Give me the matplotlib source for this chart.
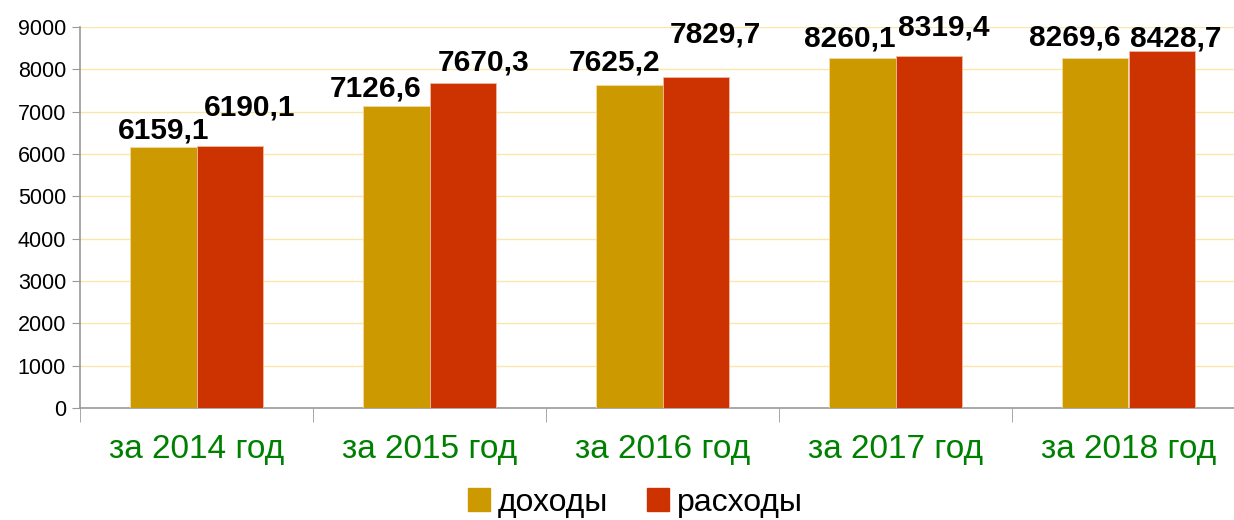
import numpy as np
import matplotlib.pyplot as plt
from matplotlib.patches import Patch

plt.rcParams['font.family'] = ['Liberation Sans', 'DejaVu Sans']

categories = ["за 2014 год", "за 2015 год", "за 2016 год", "за 2017 год", "за 2018 год"]
income = [6159.1, 7126.6, 7625.2, 8260.1, 8269.6]
expenses = [6190.1, 7670.3, 7829.7, 8319.4, 8428.7]
series_names = ["доходы", "расходы"]

# label offsets in pixels (dx, dy) relative to bar top centre
income_offsets = [(0, 17), (-21, 18), (-15, 23), (-12, 20), (-20, 20)]
expense_offsets = [(20, 38), (21, 21), (20, 42), (15, 28), (14, 13)]

c_inc = "#CC9900"
c_exp = "#CC3300"

fig = plt.figure(figsize=(12.34, 5.2), dpi=100)
ax = fig.add_axes([80 / 1234, 1 - 408 / 520, (1245 - 80) / 1234, (408 - 27) / 520])

x = np.arange(len(categories))
w = 0.285
b1 = ax.bar(x - w / 2, income, w, color=c_inc, edgecolor="#F5D9A0", linewidth=0.6, zorder=3)
b2 = ax.bar(x + w / 2, expenses, w, color=c_exp, edgecolor="#F2B8A0", linewidth=0.6, zorder=3)


def fmt(v):
    return f"{v:.1f}".replace(".", ",")


for bars, vals, offs in [(b1, income, income_offsets), (b2, expenses, expense_offsets)]:
    for rect, v, (dx, dy) in zip(bars, vals, offs):
        ax.annotate(fmt(v), (rect.get_x() + rect.get_width() / 2, v),
                    xytext=(dx, dy), textcoords="offset pixels",
                    ha="center", va="center", fontsize=21.5, fontweight="bold", zorder=5)

ax.set_xlim(-0.5, len(categories) - 0.5)
ax.set_ylim(0, 9000)
ax.set_yticks(np.arange(0, 9001, 1000))
ax.yaxis.grid(True, color="#FAE6A8", linewidth=1, zorder=0)
ax.set_axisbelow(True)

ax.set_xticks(x)
ax.set_xticklabels(categories, fontsize=24, color="#008000")
ax.set_xticks(np.arange(-0.5, len(categories)), minor=True)
ax.tick_params(axis="x", which="major", length=0, pad=19)
ax.tick_params(axis="x", which="minor", length=10, color="#999999", direction="out")
ax.tick_params(axis="y", length=6, color="#999999", labelsize=15.5, pad=4)

for s in ["top", "right"]:
    ax.spines[s].set_visible(False)
for s in ["left", "bottom"]:
    ax.spines[s].set_color("#999999")
    ax.spines[s].set_linewidth(1.2)

handles = [Patch(color=c_inc), Patch(color=c_exp)]
fig.legend(handles, series_names, loc="center", bbox_to_anchor=(0.515, 0.033), ncol=2,
           frameon=False, fontsize=23, handlelength=0.7, handleheight=0.7,
           handletextpad=0.25, columnspacing=1.2)

plt.savefig("out.png", dpi=100)
